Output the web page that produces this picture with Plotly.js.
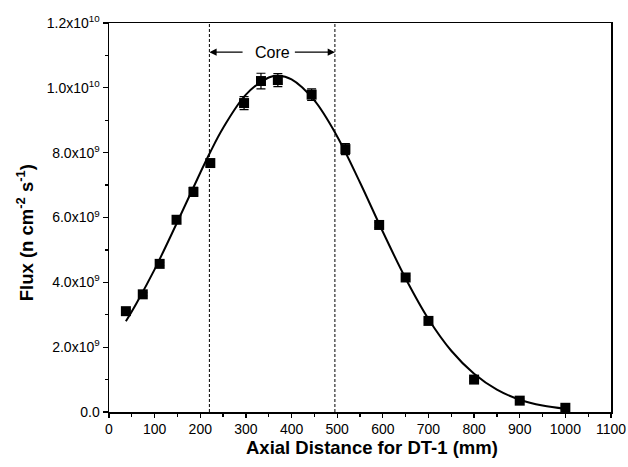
<!DOCTYPE html>
<html>
<head>
<meta charset="utf-8">
<script src="https://cdn.plot.ly/plotly-3.0.1.min.js"></script>
<style>html,body{margin:0;padding:0;background:#fff;}#chart{width:628px;height:467px;}</style>
</head>
<body>
<div id="chart"></div>
<script>
// Measured data points
const distance = [37, 74, 111, 148, 185, 222, 296, 333, 370, 444, 518, 592, 650, 700, 800, 900, 1000];
const flux = [3.11e9, 3.63e9, 4.57e9, 5.93e9, 6.79e9, 7.68e9, 9.53e9, 10.21e9, 10.24e9, 9.79e9, 8.11e9, 5.77e9, 4.15e9, 2.81e9, 1.00e9, 0.35e9, 0.13e9];
const fluxErr = [0.05e9, 0.05e9, 0.05e9, 0.1e9, 0.14e9, 0.1e9, 0.2e9, 0.24e9, 0.2e9, 0.18e9, 0.17e9, 0.08e9, 0.05e9, 0.05e9, 0.05e9, 0.05e9, 0.05e9];

// Fitted curve
const fitX = [37, 60, 100, 150, 200, 222, 250, 300, 350, 370, 400, 450, 500, 550, 600, 650, 700, 750, 800, 850, 900, 950, 1000];
const fitY = [2.80e9, 3.35e9, 4.40e9, 5.87e9, 7.38e9, 8.02e9, 8.76e9, 9.79e9, 10.32e9, 10.37e9, 10.26e9, 9.61e9, 8.50e9, 7.08e9, 5.56e9, 4.12e9, 2.87e9, 1.89e9, 1.18e9, 0.69e9, 0.38e9, 0.20e9, 0.10e9];

// Core region boundaries
const coreBounds = [220, 495];
const coreLabel = "Core";
const coreLabelY = 11.1e9;
const coreArrowStarts = [296, 404];

// Axis ticks and titles
const xTickVals = [0, 100, 200, 300, 400, 500, 600, 700, 800, 900, 1000, 1100];
const yTickVals = [0, 2e9, 4e9, 6e9, 8e9, 1e10, 1.2e10];
const yTickText = ["0.0", "2.0x10<sup>9</sup>", "4.0x10<sup>9</sup>", "6.0x10<sup>9</sup>", "8.0x10<sup>9</sup>", "1.0x10<sup>10</sup>", "1.2x10<sup>10</sup>"];
const xTitle = "<b>Axial Distance for DT-1 (mm)</b>";
const yTitle = "<b>Flux (n cm<sup>-2</sup> s<sup>-1</sup>)</b>";

const font = "Liberation Sans, Arial, Helvetica, sans-serif";

const traces = [
  {
    x: fitX, y: fitY, type: "scatter", mode: "lines",
    line: {color: "#000", width: 2, shape: "spline", smoothing: 1.0},
    hoverinfo: "skip", showlegend: false
  },
  {
    x: distance, y: flux, type: "scatter", mode: "markers",
    marker: {symbol: "square", size: 10, color: "#000"},
    error_y: {type: "data", array: fluxErr, visible: true, color: "#000", thickness: 1.2, width: 4.5},
    showlegend: false
  }
];

const shapes = coreBounds.map(b => ({
  type: "line", xref: "x", yref: "y", x0: b, x1: b, y0: 0, y1: 1.2e10,
  line: {color: "#000", width: 1, dash: "3px,2px"}
}));

const annotations = [
  {x: (coreBounds[0] + coreBounds[1]) / 2, y: coreLabelY, xref: "x", yref: "y", text: coreLabel, showarrow: false,
   font: {family: font, size: 16, color: "#000"}},
  {x: coreBounds[0], y: coreLabelY, xref: "x", yref: "y", ax: coreArrowStarts[0], ay: coreLabelY, axref: "x", ayref: "y",
   text: "", showarrow: true, arrowhead: 2, arrowsize: 1.2, arrowwidth: 1.2, arrowcolor: "#000", standoff: 0, startstandoff: 0},
  {x: coreBounds[1], y: coreLabelY, xref: "x", yref: "y", ax: coreArrowStarts[1], ay: coreLabelY, axref: "x", ayref: "y",
   text: "", showarrow: true, arrowhead: 2, arrowsize: 1.2, arrowwidth: 1.2, arrowcolor: "#000", standoff: 0, startstandoff: 0},
  {x: 0.524, y: -0.091, xref: "paper", yref: "paper", xanchor: "center", yanchor: "middle", showarrow: false,
   text: xTitle, font: {family: font, size: 18.5, color: "#000"}},
  {x: -0.167, y: 0.46, xref: "paper", yref: "paper", xanchor: "center", yanchor: "middle", showarrow: false,
   textangle: -90, text: yTitle, font: {family: font, size: 18.5, color: "#000"}}
];

const layout = {
  width: 628, height: 467,
  margin: {l: 109, r: 17, t: 23, b: 55},
  paper_bgcolor: "#fff", plot_bgcolor: "#fff",
  font: {family: font, size: 14, color: "#000"},
  xaxis: {
    range: [0, 1100], tickmode: "array", tickvals: xTickVals,
    ticks: "outside", ticklen: 4, tickwidth: 1.2, tickcolor: "#000",
    minor: {tickmode: "linear", tick0: 0, dtick: 50, ticks: "outside", ticklen: 3, tickwidth: 1.2, tickcolor: "#000"},
    showline: true, linecolor: "#000", linewidth: 1.5, mirror: true,
    showgrid: false, zeroline: false,
    tickfont: {family: font, size: 14, color: "#000"}
  },
  yaxis: {
    range: [0, 1.2e10], tickmode: "array", tickvals: yTickVals, ticktext: yTickText,
    ticks: "outside", ticklen: 5, tickwidth: 1.2, tickcolor: "#000",
    minor: {tickmode: "linear", tick0: 0, dtick: 1e9, ticks: "outside", ticklen: 3, tickwidth: 1.2, tickcolor: "#000"},
    showline: true, linecolor: "#000", linewidth: 1.5, mirror: true,
    showgrid: false, zeroline: false,
    tickfont: {family: font, size: 14, color: "#000"}
  },
  shapes: shapes,
  annotations: annotations
};

Plotly.newPlot("chart", traces, layout, {staticPlot: true, displayModeBar: false});
</script>
</body>
</html>
